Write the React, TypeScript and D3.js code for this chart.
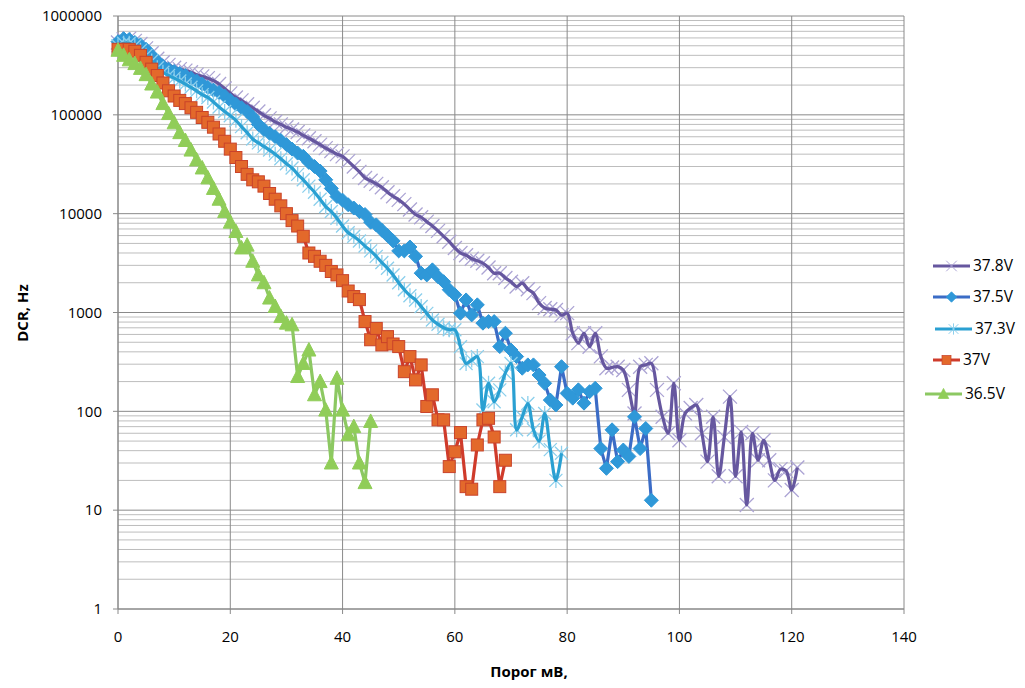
import React from "react";
import * as d3 from "d3";

// DCR (Hz) vs threshold (mV), one point per mV starting at 0
const dcr378 = [540000, 580000, 590000, 560000, 520000, 470000, 420000, 370000, 340000, 320000,
  300000, 290000, 280000, 270000, 255000, 245000, 235000, 222000, 205000, 185000,
  165000, 150000, 140000, 128000, 118000, 108000, 99000, 92000, 85000, 80000,
  75000, 71000, 67000, 62000, 58000, 54000, 50000, 46000, 43000, 40000,
  38000, 34000, 30000, 26500, 23000, 21500, 20000, 18500, 16500, 15000,
  13800, 12500, 11000, 9800, 9200, 8300, 7500, 6700, 5900, 5200,
  4500, 4000, 3800, 3500, 3340, 3150, 2850, 2500, 2500, 2230,
  2050, 1830, 1980, 1720, 1570, 1245, 1110, 1080, 1060, 940,
  985, 617, 490, 617, 450, 617, 360, 273, 278, 283,
  262, 165, 95, 283, 295, 306, 165, 88, 60, 192,
  51, 95, 108, 116, 60, 31, 88, 22, 55, 141,
  22, 62, 11.3, 60, 32, 51, 32, 20, 26, 25,
  16, 27];

const dcr375 = [550000, 590000, 580000, 540000, 510000, 460000, 400000, 350000, 310000, 290000,
  275000, 262000, 250000, 235000, 220000, 205000, 190000, 178000, 168000, 155000,
  140000, 128000, 118000, 108000, 95000, 80000, 71000, 65000, 60000, 55000,
  50000, 45000, 41000, 38000, 33000, 30000, 27000, 22000, 18000, 14900,
  13700, 12300, 11400, 10500, 9800, 8200, 7700, 6800, 6000, 5300,
  4200, 4200, 4600, 3700, 2500, 2400, 2700, 2300, 2050, 1700,
  1510, 984, 1340, 946, 1195, 780, 809, 809, 452, 617,
  417, 358, 273, 295, 295, 233, 192, 130, 116, 283,
  152, 136, 165, 121, 158, 171, 42, 26.5, 65, 31,
  40.6, 35, 88, 42, 67, 12.6];

const dcr373 = [500000, 530000, 530000, 500000, 450000, 400000, 350000, 300000, 270000, 250000,
  235000, 220000, 205000, 190000, 175000, 160000, 150000, 135000, 120000, 108000,
  98000, 88000, 76000, 66000, 57000, 52000, 48000, 44000, 40000, 36000,
  32000, 29000, 25000, 22000, 19000, 16500, 14000, 11800, 10500, 9000,
  7500, 6400, 5900, 5300, 4700, 4200, 3700, 3200, 2800, 2400,
  2000, 1700, 1480, 1340, 1150, 980, 840, 760, 700, 670,
  670, 450, 305, 330, 358, 103, 192, 125, 165, 245,
  305, 65, 88, 120, 65, 50, 95, 41, 20, 37.6];

const dcr370 = [460000, 460000, 460000, 440000, 400000, 340000, 290000, 250000, 210000, 175000,
  155000, 140000, 130000, 118000, 106000, 94000, 84000, 75000, 64000, 54000,
  45000, 37000, 30000, 25000, 22000, 21000, 19000, 16000, 14000, 12000,
  10000, 8500, 7500, 5900, 4000, 3700, 3300, 3000, 2600, 2400,
  2100, 1650, 1450, 1350, 810, 530, 690, 470, 570, 480,
  452, 252, 358, 208, 295, 112, 147, 82, 82, 27.6,
  39, 61, 17.3, 16.3, 45.7, 82, 85, 55, 17.3, 32];

const dcr365 = [450000, 400000, 360000, 330000, 295000, 255000, 205000, 170000, 130000, 103000,
  83000, 66000, 55000, 44000, 35000, 29000, 23000, 18000, 14000, 10500,
  8200, 6600, 4500, 4800, 3300, 2400, 2000, 1400, 1150, 910,
  780, 750, 225, 305, 417, 147, 200, 103, 30, 216,
  103, 58, 70, 30, 19, 79];

const xTicks = [0, 20, 40, 60, 80, 100, 120, 140];
const yTicks = [1, 10, 100, 1000, 10000, 100000, 1000000];

type Marker = "cross" | "diamond" | "star" | "square" | "triangle";

const series: {
  name: string; values: number[]; line: string; mark: Marker;
  fill: string; stroke: string; smooth: boolean;
}[] = [
  { name: "37.8V", values: dcr378, line: "#66579f", mark: "cross", fill: "none", stroke: "#aca4d4", smooth: true },
  { name: "37.5V", values: dcr375, line: "#3b6cc6", mark: "diamond", fill: "#2f98d8", stroke: "#2f98d8", smooth: false },
  { name: "37.3V", values: dcr373, line: "#2aa0d2", mark: "star", fill: "none", stroke: "#8bcfec", smooth: true },
  { name: "37V", values: dcr370, line: "#cf3b2b", mark: "square", fill: "#e3692b", stroke: "#c9432a", smooth: false },
  { name: "36.5V", values: dcr365, line: "#8cc862", mark: "triangle", fill: "#90cd58", stroke: "#90cd58", smooth: false },
];

const FONT = "'Open Sans', 'Noto Sans', sans-serif";

const left = 118, right = 904, top = 16, bottom = 609;
const x = d3.scaleLinear().domain([0, 140]).range([left, right]);
const y = d3.scaleLog().domain([1, 1000000]).range([bottom, top]);

function MarkerShape({ kind, cx, cy, fill, stroke, s = 1 }: { kind: Marker; cx: number; cy: number; fill: string; stroke: string; s?: number }) {
  const t = `translate(${cx},${cy}) scale(${s})`;
  if (kind === "cross") {
    return <path transform={t} d="M-7,-7L7,7M-7,7L7,-7" stroke={stroke} strokeWidth={1.3} fill="none" />;
  }
  if (kind === "star") {
    return <path transform={t} d="M-6.5,-6.5L6.5,6.5M-6.5,6.5L6.5,-6.5M0,-7.5L0,7.5" stroke={stroke} strokeWidth={1.3} fill="none" />;
  }
  if (kind === "diamond") {
    return <path transform={t} d="M0,-7L7,0L0,7L-7,0Z" fill={fill} stroke={stroke} strokeWidth={1} />;
  }
  if (kind === "square") {
    return <rect transform={t} x={-6} y={-6} width={12} height={12} fill={fill} stroke={stroke} strokeWidth={1} />;
  }
  return <path transform={t} d="M0,-7.5L7,6L-7,6Z" fill={fill} stroke={stroke} strokeWidth={1} />;
}

const legendRows = [
  { y: 266, x0: 933, x1: 970, tx: 973 },
  { y: 297, x0: 933, x1: 970, tx: 973 },
  { y: 329, x0: 935, x1: 972, tx: 975 },
  { y: 360, x0: 933, x1: 960, tx: 963 },
  { y: 394, x0: 925, x1: 962, tx: 965 },
];

export default function App() {
  const minor: number[] = [];
  for (let d = 0; d < 6; d++) for (let k = 2; k <= 9; k++) minor.push(k * Math.pow(10, d));

  return (
    <div style={{ position: "absolute", left: 0, top: 0 }}>
      <svg width={1025} height={688} style={{ display: "block", background: "#fff" }}>
        {/* minor horizontal grid */}
        {minor.map((v) => (
          <line key={"m" + v} x1={left} x2={right} y1={y(v)} y2={y(v)} stroke="#bdbdbd" strokeWidth={1} />
        ))}
        {/* major horizontal grid */}
        {yTicks.map((v) => (
          <line key={"M" + v} x1={left - 5} x2={right} y1={y(v)} y2={y(v)} stroke="#8a8a8a" strokeWidth={1} />
        ))}
        {/* vertical grid */}
        {xTicks.map((v) => (
          <line key={"v" + v} x1={x(v)} x2={x(v)} y1={top} y2={bottom + 5} stroke="#8a8a8a" strokeWidth={1} />
        ))}
        <line x1={left} x2={left} y1={top} y2={bottom} stroke="#868686" />
        <line x1={left} x2={right} y1={bottom} y2={bottom} stroke="#868686" />

        {yTicks.map((v) => (
          <text key={"yl" + v} x={102} y={y(v)} dy="0.35em" textAnchor="end" fontFamily={FONT} fontSize={15} fill="#000">
            {v}
          </text>
        ))}
        {xTicks.map((v) => (
          <text key={"xl" + v} x={x(v)} y={637} dy="0.35em" textAnchor="middle" fontFamily={FONT} fontSize={15} fill="#000">
            {v}
          </text>
        ))}
        <text transform="translate(23,313) rotate(-90)" textAnchor="middle" dy="0.35em" fontFamily={FONT} fontSize={15} fontWeight="bold">
          DCR, Hz
        </text>
        <text x={529} y={672} textAnchor="middle" dy="0.35em" fontFamily={FONT} fontSize={15} fontWeight="bold">
          Порог мВ,
        </text>

        {series.map((s) => {
          const gen = d3.line<number>()
            .x((_, i) => x(i))
            .y((v) => y(v))
            .curve(s.smooth ? d3.curveCatmullRom.alpha(0.5) : d3.curveLinear);
          const path = <path d={gen(s.values) || ""} fill="none" stroke={s.line} strokeWidth={3.2} strokeLinejoin="round" />;
          const marks = s.values.map((v, i) => (
            <MarkerShape key={i} kind={s.mark} cx={x(i)} cy={y(v)} fill={s.fill} stroke={s.stroke} />
          ));
          // thin open markers sit under their line, filled ones on top
          const openMark = s.fill === "none";
          return (
            <g key={s.name}>
              {openMark ? marks : path}
              {openMark ? path : marks}
            </g>
          );
        })}

        {series.map((s, i) => {
          const r = legendRows[i];
          return (
            <g key={"lg" + s.name}>
              <line x1={r.x0} x2={r.x1} y1={r.y} y2={r.y} stroke={s.line} strokeWidth={3} />
              <MarkerShape kind={s.mark} cx={(r.x0 + r.x1) / 2} cy={r.y} fill={s.fill} stroke={s.stroke} s={0.75} />
              <text x={r.tx} y={r.y} dy="0.35em" fontFamily={FONT} fontSize={15.5} fill="#000">
                {s.name}
              </text>
            </g>
          );
        })}
      </svg>
    </div>
  );
}
